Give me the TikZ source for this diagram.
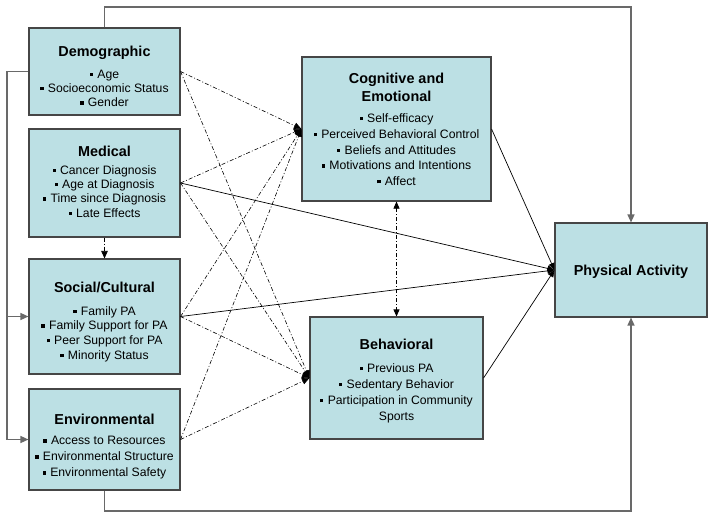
\documentclass[tikz,border=0pt]{standalone}
\usepackage{fontspec}
\setmainfont{Liberation Sans}
\usetikzlibrary{arrows.meta}
\definecolor{boxfill}{RGB}{188,224,228}
\definecolor{boxline}{RGB}{70,70,70}
\definecolor{outerline}{RGB}{105,105,105}
\newcommand{\bul}{\rule[2.3pt]{3.3pt}{3.3pt}\hspace{4.3pt}}
\newcommand{\ttl}[1]{{\fontsize{14.4}{17}\selectfont\bfseries #1}}
\begin{document}
\begin{tikzpicture}[x=1pt,y=-1pt,
  box/.style={draw=boxline, line width=1.1pt, fill=boxfill, inner sep=0pt},
  txt/.style={align=center, inner sep=0pt, anchor=north, font=\fontsize{12.2}{#1}\selectfont},
  outer/.style={draw=outerline, line width=1.3pt},
  outarrow/.style={outer, -{Triangle[width=7pt,length=8pt]}},
  solidarrow/.style={line width=0.7pt, -{Triangle[width=6pt,length=7pt]}},
  dashdotarrow/.style={line width=0.6pt, dash pattern=on 4pt off 2pt on 1pt off 2pt,
                       -{Triangle[width=6.5pt,length=7.5pt]}},
  dashdotboth/.style={dashdotarrow, {Triangle[width=6pt,length=7pt]}-{Triangle[width=6pt,length=7pt]}}
]
\useasboundingbox (0,0) rectangle (714,519);

% boxes
\node[box, minimum width=151, minimum height=87] (demo) at (104.5,71.5) {};
\node[box, minimum width=151, minimum height=108] (med) at (104.5,183) {};
\node[box, minimum width=151, minimum height=115] (soc) at (104.5,316.5) {};
\node[box, minimum width=151, minimum height=101] (env) at (104.5,439.5) {};
\node[box, minimum width=189, minimum height=144] (cog) at (396.5,129) {};
\node[box, minimum width=173, minimum height=122] (beh) at (396.5,378) {};
\node[box, minimum width=152, minimum height=94, text depth=0pt] (pa) at (631,270)
  {\ttl{Physical Activity}};

% texts
\node[txt=14.3] (demo-t) at (104.5,45.9)
  {\ttl{Demographic}\\[7.4pt] \bul Age\\ \bul Socioeconomic Status\\ \bul Gender};
\node[txt=14.3] (med-t) at (104.5,146.3)
  {\ttl{Medical}\\[3pt] \bul Cancer Diagnosis\\ \bul Age at Diagnosis\\ \bul Time since Diagnosis\\ \bul Late Effects};
\node[txt=14.7] (soc-t) at (104.5,281.9)
  {\ttl{Social/Cultural}\\[8pt] \bul Family PA\\ \bul Family Support for PA\\ \bul Peer Support for PA\\ \bul Minority Status};
\node[txt=16] (env-t) at (104.5,414.3)
  {\ttl{Environmental}\\[4pt] \bul Access to Resources\\ \bul Environmental Structure\\ \bul Environmental Safety};
\node[txt=15.8] (cog-t) at (396.5,73.3)
  {\ttl{Cognitive and}\\[1.5pt] \ttl{Emotional}\\[5.5pt] \bul Self-efficacy\\ \bul Perceived Behavioral Control\\ \bul Beliefs and Attitudes\\ \bul Motivations and Intentions\\ \bul Affect};
\node[txt=16] (beh-t) at (396.5,338.9)
  {\ttl{Behavioral}\\[7pt] \bul Previous PA\\ \bul Sedentary Behavior\\ \bul Participation in Community\\ Sports};

\coordinate (topy) at (0,7);
\coordinate (boty) at (0,511);
\coordinate (leftx) at (7,0);

% outer connectors
\draw[outarrow] (demo.north) |- (topy -| pa.north) -- (pa.north);
\draw[outarrow] (env.south) |- (boty -| pa.south) -- (pa.south);
\draw[outarrow] (demo.west) -- (demo.west -| leftx) |- (env.west);
\draw[outarrow] (leftx |- soc.west) -- (soc.west);

% solid to PA
\draw[solidarrow] (med.east) -- (pa.west);
\draw[solidarrow] (soc.east) -- (pa.west);
\draw[solidarrow] (cog.east) -- (pa.west);
\draw[solidarrow] (beh.east) -- (pa.west);

% dash-dot to cog and beh
\foreach \n in {demo,med,soc,env}{
  \draw[dashdotarrow] (\n.east) -- (cog.west);
  \draw[dashdotarrow] (\n.east) -- (beh.west);
}
\draw[dashdotarrow] (med.south) -- (soc.north);
\draw[dashdotboth] (cog.south) -- (beh.north);
\end{tikzpicture}
\end{document}
